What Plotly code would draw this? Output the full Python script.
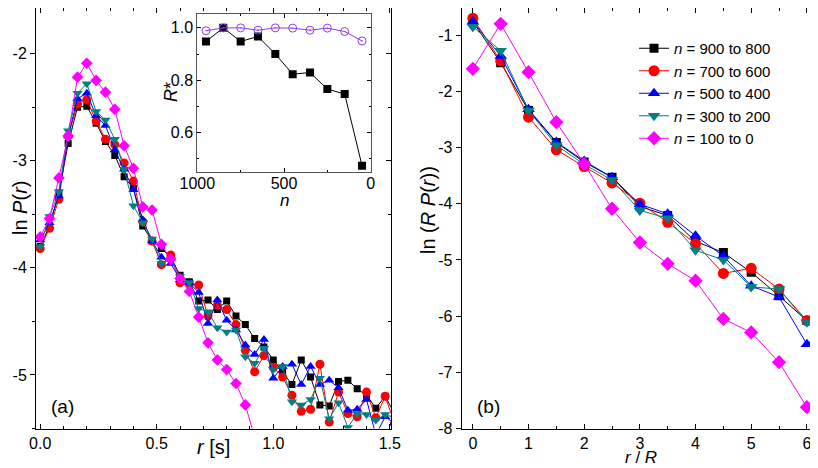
import plotly.graph_objs as go

# the page body has an 8px margin, so the figure is sized to fit the rest of the window
OFF = 8
W, H = 818 - OFF, 468 - OFF

# ---- panel (a): ln P(r) vs r, bins of 0.04 s
r_a = [round(0.04 * i, 2) for i in range(39)]
a_900_800 = [-3.80, -3.61, -3.30, -2.84, -2.50, -2.49, -2.65, -2.82, -2.95, -3.15,
             -3.26, -3.61, -3.75, -3.82, -3.90, -4.07, -4.13, -4.31, -4.30, -4.39,
             -4.31, -4.45, -4.53, -4.66, -4.74, -4.86, -4.97, -5.09, -4.86, -5.02,
             -5.28, -5.29, -5.06, -5.05, -5.13, -5.19, -5.31, -5.20, -5.36]
a_700_600 = [-3.82, -3.63, -3.36, -2.77, -2.47, -2.43, -2.63, -2.80, -2.85, -3.02,
             -3.19, -3.57, -3.75, -3.97, -3.88, -4.14, -4.15, -4.16, -4.45, -4.35,
             -4.39, -4.53, -4.77, -4.97, -4.82, -4.93, -5.02, -5.19, -5.34, -5.32,
             -4.90, -5.44, -5.16, -5.36, -5.39, -5.16, -5.40, -5.20, -5.45]
a_500_400 = [-3.74, -3.58, -3.33, -2.77, -2.42, -2.37, -2.58, -2.67, -2.90, -3.08,
             -3.27, -3.55, -3.75, -3.90, -3.96, -4.11, -4.14, -4.23, -4.52, -4.30,
             -4.49, -4.58, -4.72, -4.81, -4.67, -5.03, -4.92, -4.90, -5.09, -4.92,
             -5.09, -5.05, -5.12, -5.33, -5.32, -5.23, -5.56, -5.39, -5.45]
a_300_200 = [-3.80, -3.52, -3.29, -2.72, -2.37, -2.28, -2.54, -2.62, -2.80, -3.08,
             -3.42, -3.58, -3.73, -3.96, -3.92, -4.08, -4.14, -4.38, -4.41, -4.56,
             -4.60, -4.58, -4.83, -4.89, -4.75, -4.95, -4.92, -5.25, -5.28, -5.23,
             -5.03, -5.41, -5.26, -5.49, -5.36, -5.37, -5.42, -5.37, -5.40]
a_100_0 = [-3.71, -3.54, -3.16, -2.77, -2.22, -2.09, -2.25, -2.36, -2.52, -2.86,
           -3.07, -3.43, -3.46, -3.78, -3.92, -4.10, -4.22, -4.46, -4.70, -4.86,
           -4.95, -5.08, -5.28, -5.58]

# ---- inset: R* vs n
inset_n = [950, 850, 750, 650, 550, 450, 350, 250, 150, 50]
inset_black = [0.948, 1.0, 0.948, 0.967, 0.900, 0.823, 0.829, 0.766, 0.747, 0.473]
inset_purple = [0.989, 1.0, 1.0, 0.991, 1.0, 0.999, 0.991, 0.999, 0.986, 0.950]

# ---- panel (b): ln(R P(r)) vs r/R
r_b = [0, 0.5, 1, 1.5, 2, 2.5, 3, 3.5, 4, 4.5, 5, 5.5, 6, 6.5]
b_900_800 = [-0.76, -1.49, -2.34, -2.91, -3.26, -3.53, -4.05, -4.21, -4.67, -4.87, -5.22, -5.64, -6.08, -6.38]
b_700_600 = [-0.70, -1.46, -2.46, -3.04, -3.34, -3.63, -3.99, -4.33, -4.71, -5.24, -5.15, -5.52, -6.08, -6.08]
b_500_400 = [-0.76, -1.37, -2.32, -2.90, -3.24, -3.53, -4.01, -4.18, -4.57, -4.93, -5.46, -5.66, -6.50, -6.13]
b_300_200 = [-0.85, -1.28, -2.34, -2.96, -3.30, -3.58, -4.12, -4.26, -4.83, -5.00, -5.48, -5.52, -6.11, -6.56]
b_100_0 = [-1.60, -0.80, -1.66, -2.55, -3.29, -4.09, -4.69, -5.07, -5.37, -6.05, -6.29, -6.82, -7.62, -6.97]

series_names = ["<i>n</i> = 900 to 800", "<i>n</i> = 700 to 600", "<i>n</i> = 500 to 400",
                "<i>n</i> = 300 to 200", "<i>n</i> = 100 to 0"]

a_yticks = [-5, -4, -3, -2]
a_xticks = [0, 0.5, 1.0, 1.5]
a_xticklabels = ["0.0", "0.5", "1.0", "1.5"]
b_yticks = [-8, -7, -6, -5, -4, -3, -2, -1]
b_xticks = [0, 1, 2, 3, 4, 5, 6]
inset_yticks = [0.6, 0.8, 1.0]
inset_yticklabels = ["0.6", "0.8", "1.0"]
inset_xticks = [1000, 500, 0]

styles = [
    dict(color="#000000", symbol="square", size=7),
    dict(color="#ff0000", symbol="circle", size=9),
    dict(color="#0000ff", symbol="triangle-up", size=9),
    dict(color="#008080", symbol="triangle-down", size=9),
    dict(color="#ff00ff", symbol="diamond", size=9),
]

FONT = "Liberation Sans, Arial, sans-serif"


# positions below are given in window pixels of the reference image
def px_x(p):
    return (p - OFF) / W


def px_y(p):
    return 1 - (p - OFF) / H


fig = go.Figure()

a_series = [a_900_800, a_700_600, a_500_400, a_300_200, a_100_0]
b_series = [b_900_800, b_700_600, b_500_400, b_300_200, b_100_0]

for name, ys, st in zip(series_names, a_series, styles):
    fig.add_trace(go.Scatter(
        x=r_a[:len(ys)], y=ys, mode="lines+markers", name=name, showlegend=False,
        line=dict(color=st["color"], width=1),
        marker=dict(color=st["color"], symbol=st["symbol"], size=st["size"]),
        xaxis="x", yaxis="y",
    ))

for name, ys, st in zip(series_names, b_series, styles):
    fig.add_trace(go.Scatter(
        x=r_b, y=ys, mode="lines+markers", name=name,
        line=dict(color=st["color"], width=1),
        marker=dict(color=st["color"], symbol=st["symbol"], size=st["size"] + 2),
        xaxis="x2", yaxis="y2",
    ))

# inset
fig.add_trace(go.Scatter(
    x=inset_n, y=inset_black, mode="lines+markers", showlegend=False,
    line=dict(color="black", width=1),
    marker=dict(color="black", symbol="square", size=8),
    xaxis="x3", yaxis="y3",
))
fig.add_trace(go.Scatter(
    x=inset_n, y=inset_purple, mode="lines+markers", showlegend=False,
    line=dict(color="#8f3cf0", width=1),
    marker=dict(color="#8f3cf0", symbol="circle-open-dot", size=8, line=dict(width=1)),
    xaxis="x3", yaxis="y3",
))
fig.add_shape(type="line", xref="x3 domain", x0=0, x1=1, yref="y3", y0=1, y1=1,
              line=dict(color="black", width=1.2, dash="dot"), layer="below")

# empty traces so the right-hand tick axes get drawn
fig.add_trace(go.Scatter(x=[], y=[], xaxis="x", yaxis="y4", showlegend=False, hoverinfo="skip"))
fig.add_trace(go.Scatter(x=[], y=[], xaxis="x2", yaxis="y5", showlegend=False, hoverinfo="skip"))

tickfont = dict(family=FONT, size=16, color="black")
common = dict(showgrid=False, zeroline=False, showline=True, linecolor="black",
              linewidth=1, tickcolor="black", tickfont=tickfont, ticklen=5, automargin=False)

# bottom of both panels at y=428.5; top at the top of the window
a_ydom = [px_y(428.5), 1.0]
a_yrange = [-5.5, -5.5 + (428.5 - OFF) / 107.1]
b_yrange = [-8, -8 + (428.5 - OFF) / 56.2]

fig.update_layout(
    width=W, height=H,
    margin=dict(l=0, r=0, t=0, b=0, autoexpand=False),
    paper_bgcolor="white", plot_bgcolor="white",
    font=dict(family=FONT, size=16, color="black"),
    xaxis=dict(common, domain=[px_x(36), px_x(391)], range=[-0.018, 1.505], anchor="y",
               tickmode="array", tickvals=a_xticks, ticktext=a_xticklabels,
               ticks="inside", mirror="ticks",
               minor=dict(tickmode="linear", tick0=0, dtick=0.1, ticks="inside", ticklen=3)),
    yaxis=dict(common, domain=a_ydom, range=a_yrange, anchor="x",
               tickmode="array", tickvals=a_yticks, ticktext=[str(v) for v in a_yticks],
               ticks="outside", mirror=True,
               minor=dict(tickmode="linear", tick0=0, dtick=0.5, ticks="outside", ticklen=3)),
    yaxis4=dict(overlaying="y", side="right", anchor="x", range=a_yrange, automargin=False,
                showgrid=False, zeroline=False, showline=False, showticklabels=False,
                tickmode="array", tickvals=a_yticks, ticks="inside", ticklen=5, tickcolor="black",
                minor=dict(tickmode="linear", tick0=0, dtick=0.5, ticks="inside", ticklen=3)),
    xaxis2=dict(common, domain=[px_x(461.7), 1.0], range=[-0.2, 6.2], anchor="y2",
                tickmode="array", tickvals=b_xticks, ticktext=[str(v) for v in b_xticks],
                ticks="inside", mirror="ticks",
                minor=dict(tickmode="linear", tick0=0, dtick=0.5, ticks="inside", ticklen=3)),
    yaxis2=dict(common, domain=a_ydom, range=b_yrange, anchor="x2",
                tickmode="array", tickvals=b_yticks, ticktext=[str(v) for v in b_yticks],
                ticks="outside", mirror=True),
    yaxis5=dict(overlaying="y2", side="right", anchor="x2", range=b_yrange, automargin=False,
                showgrid=False, zeroline=False, showline=False, showticklabels=False,
                tickmode="array", tickvals=b_yticks, ticks="inside", ticklen=5, tickcolor="black"),
    xaxis3=dict(common, domain=[px_x(197.3), px_x(370.7)], range=[1000, 0], anchor="y3",
                linecolor="#555555", ticklen=4, ticklabelstandoff=-3,
                tickmode="array", tickvals=inset_xticks, ticktext=[str(v) for v in inset_xticks],
                ticks="inside", mirror="ticks",
                minor=dict(tickmode="linear", tick0=0, dtick=250, ticks="inside", ticklen=2)),
    yaxis3=dict(common, domain=[px_y(171.7), px_y(14)], range=[0.45, 1.053], anchor="x3",
                linecolor="#555555", ticklen=4,
                tickmode="array", tickvals=inset_yticks, ticktext=inset_yticklabels,
                ticks="inside", mirror="ticks",
                minor=dict(tickmode="linear", tick0=0, dtick=0.1, ticks="inside", ticklen=2)),
    legend=dict(x=px_x(634), y=px_y(32), xanchor="left", yanchor="top",
                bgcolor="rgba(0,0,0,0)", borderwidth=0, tracegroupgap=0,
                font=dict(family=FONT, size=15, color="black")),
    showlegend=True,
)

labels = [
    ("ln <i>P</i>(<i>r</i>)", 20, 208, -90, 20, "middle"),
    ("<i>r</i> [s]", 213, 447, 0, 20, "middle"),
    ("(a)", 62, 406, 0, 19, "middle"),
    ("ln (<i>R P</i>(<i>r</i>))", 428, 210, -90, 20, "middle"),
    ("<i>r</i> / <i>R</i>", 641, 468, 0, 17, "bottom"),
    ("(b)", 489, 406, 0, 19, "middle"),
    ("<i>R</i>*", 171, 92, -90, 18, "middle"),
    ("<i>n</i>", 284, 200, 0, 17, "middle"),
]
for text, x, y, ang, size, yanc in labels:
    fig.add_annotation(text=text, x=px_x(x), y=px_y(y), xref="paper", yref="paper",
                       xanchor="center", yanchor=yanc, showarrow=False, borderpad=0,
                       textangle=ang, font=dict(family=FONT, size=size, color="black"))

fig.write_html("out.html")
